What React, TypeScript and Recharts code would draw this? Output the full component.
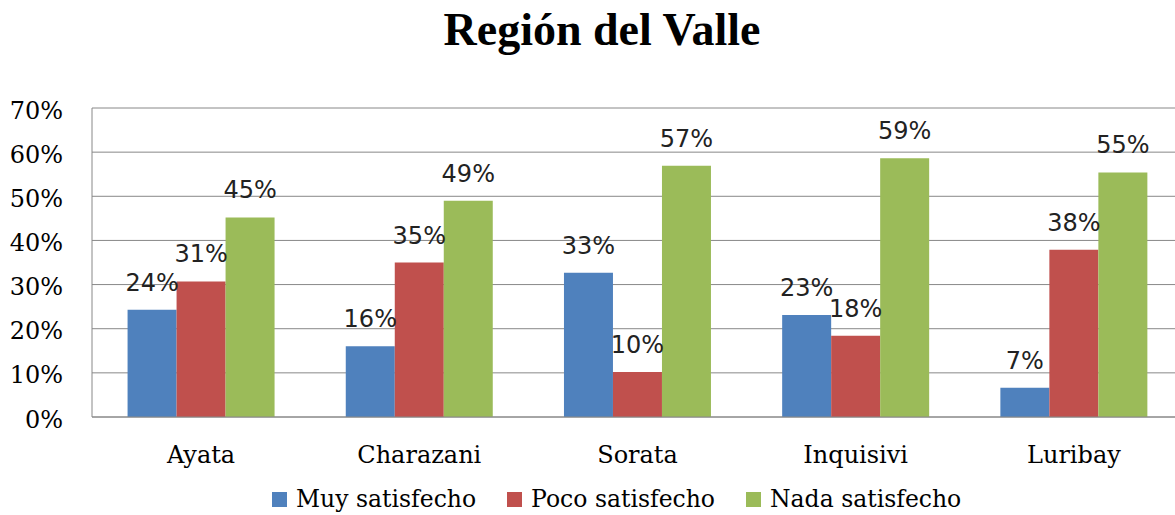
import { BarChart, Bar, XAxis, YAxis, CartesianGrid, Legend, LabelList } from 'recharts'

document.body.style.margin = '0'

const categories = ['Ayata', 'Charazani', 'Sorata', 'Inquisivi', 'Luribay']
const muySatisfecho = [0.243, 0.16, 0.327, 0.231, 0.066]
const pocoSatisfecho = [0.307, 0.35, 0.102, 0.184, 0.379]
const nadaSatisfecho = [0.452, 0.49, 0.569, 0.586, 0.554]
const yTicks = [0, 0.1, 0.2, 0.3, 0.4, 0.5, 0.6, 0.7]

const series = [
  { key: 'muy', name: 'Muy satisfecho', color: '#4F81BD' },
  { key: 'poco', name: 'Poco satisfecho', color: '#C0504D' },
  { key: 'nada', name: 'Nada satisfecho', color: '#9BBB59' },
]

const chartData = categories.map((name, i) => ({
  name,
  muy: muySatisfecho[i],
  poco: pocoSatisfecho[i],
  nada: nadaSatisfecho[i],
}))

const pct = (v: number) => `${Math.round(v * 100)}%`

const serif = '"DejaVu Serif", serif'
const gridColor = '#888888'

const LegendContent = () => (
  <div
    style={{
      height: 40,
      boxSizing: 'border-box',
      paddingTop: 8,
      paddingLeft: 272,
      display: 'flex',
      alignItems: 'center',
      fontFamily: serif,
      fontSize: 23.5,
      color: '#000',
    }}
  >
    {series.map((s) => (
      <div key={s.key} style={{ display: 'flex', alignItems: 'center', marginRight: 31 }}>
        <span style={{ width: 15, height: 15, background: s.color, marginRight: 9, display: 'inline-block' }} />
        <span>{s.name}</span>
      </div>
    ))}
  </div>
)

export default function App() {
  return (
    <div style={{ position: 'relative', width: 1175, height: 515, overflow: 'hidden', background: '#fff' }}>
      <div
        style={{
          position: 'absolute',
          top: 6.5,
          left: 0,
          width: 1175,
          paddingLeft: 29,
          boxSizing: 'border-box',
          textAlign: 'center',
          fontFamily: '"Liberation Serif", serif',
          fontWeight: 'bold',
          fontSize: 46,
          lineHeight: '46px',
          color: '#000',
        }}
      >
        Región del Valle
      </div>
      <BarChart
        width={1183}
        height={515}
        data={chartData}
        margin={{ top: 108, right: 0, bottom: 0, left: 0 }}
        barCategoryGap="16.3%"
        barGap={0}
      >
        <CartesianGrid vertical={false} stroke={gridColor} />
        <XAxis
          dataKey="name"
          height={58}
          axisLine={{ stroke: gridColor }}
          tickLine={false}
          tickSize={0}
          tickMargin={29}
          tick={{ fontFamily: serif, fontSize: 24, fill: '#000' }}
        />
        <YAxis
          type="number"
          domain={[0, 0.7]}
          ticks={yTicks}
          tickFormatter={pct}
          width={92}
          axisLine={{ stroke: gridColor }}
          tickLine={false}
          tickSize={0}
          tickMargin={29}
          tick={{ fontFamily: serif, fontSize: 24, fill: '#000', dy: 2 }}
        />
        <Legend verticalAlign="bottom" wrapperStyle={{ left: 0, width: 1175 }} content={<LegendContent />} />
        {series.map((s) => (
          <Bar key={s.key} dataKey={s.key} name={s.name} fill={s.color} isAnimationActive={false}>
            <LabelList
              dataKey={s.key}
              position="top"
              offset={19}
              formatter={(v: any) => pct(Number(v))}
              style={{ fontFamily: '"DejaVu Sans", sans-serif', fontSize: 24, fill: '#222' }}
            />
          </Bar>
        ))}
      </BarChart>
    </div>
  )
}
